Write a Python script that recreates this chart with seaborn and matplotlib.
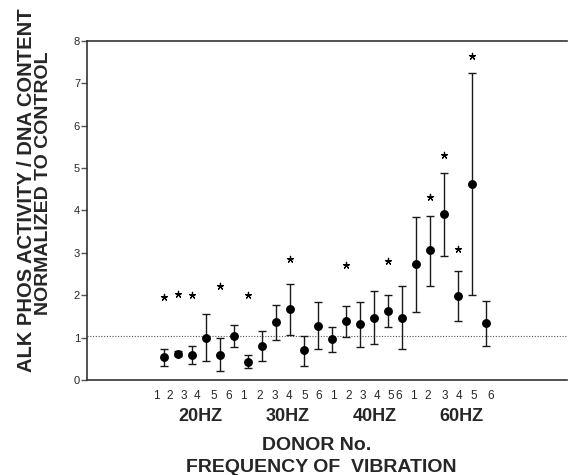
import numpy as np
import pandas as pd
import matplotlib
matplotlib.use("Agg")
import matplotlib.pyplot as plt
import matplotlib.transforms as mtrans
import seaborn as sns

# ---------------- data ----------------
groups = ["20HZ", "30HZ", "40HZ", "60HZ"]
donors = [1, 2, 3, 4, 5, 6]

mean_20 = [0.535, 0.615, 0.59, 0.99, 0.60, 1.04]
mean_30 = [0.43, 0.80, 1.36, 1.67, 0.71, 1.28]
mean_40 = [0.96, 1.39, 1.33, 1.47, 1.63, 1.47]
mean_60 = [2.74, 3.06, 3.91, 1.99, 4.63, 1.34]

upper_20 = [0.73, 0.68, 0.80, 1.55, 0.99, 1.29]
upper_30 = [0.59, 1.16, 1.76, 2.27, 1.05, 1.83]
upper_40 = [1.25, 1.75, 1.85, 2.09, 2.00, 2.22]
upper_60 = [3.84, 3.88, 4.88, 2.57, 7.24, 1.86]

lower_20 = [0.34, 0.56, 0.38, 0.44, 0.21, 0.77]
lower_30 = [0.28, 0.44, 0.95, 1.07, 0.34, 0.73]
lower_40 = [0.67, 1.01, 0.78, 0.84, 1.24, 0.72]
lower_60 = [1.61, 2.23, 2.93, 1.40, 2.00, 0.81]

# height of significance asterisks (nan = none)
star_20 = [1.97, 2.03, 2.00, np.nan, 2.22, np.nan]
star_30 = [2.00, np.nan, np.nan, 2.86, np.nan, np.nan]
star_40 = [np.nan, 2.71, np.nan, np.nan, 2.82, np.nan]
star_60 = [np.nan, 4.32, 5.30, 3.08, 7.64, np.nan]

control_level = 1.04
y_ticks = [0, 1, 2, 3, 4, 5, 6, 7, 8]

# tick-label positions (in point-index units) as printed in the original
xtick_pos = [-0.59, 0.36, 1.36, 2.36, 3.50, 4.57,
             5.64, 6.79, 7.90, 8.93, 10.05, 11.00,
             12.05, 13.19, 14.19, 15.19, 16.17, 16.76,
             17.76, 18.84, 20.05, 21.05, 22.12, 23.31]
group_label_pos = [2.6, 8.8, 15.05, 21.25]

df = pd.DataFrame({
    "group": np.repeat(groups, len(donors)),
    "donor": np.tile(donors, len(groups)),
    "mean": mean_20 + mean_30 + mean_40 + mean_60,
    "upper": upper_20 + upper_30 + upper_40 + upper_60,
    "lower": lower_20 + lower_30 + lower_40 + lower_60,
    "star": star_20 + star_30 + star_40 + star_60,
})
df["pos"] = np.arange(len(df))

# ---------------- style ----------------
sns.set_style("ticks")
plt.rcParams["font.family"] = ["Liberation Sans", "DejaVu Sans"]

W, H = 568, 475
fig = plt.figure(figsize=(W / 100, H / 100), dpi=100)
ax = fig.add_axes([87 / W, 95 / H, 480 / W, 339 / H])

ax.axhline(control_level, color="#555555", lw=0.8, ls=(0, (1, 1.5)), zorder=1)

ax.errorbar(df["pos"], df["mean"],
            yerr=[df["mean"] - df["lower"], df["upper"] - df["mean"]],
            fmt="none", ecolor="#1a1a1a", elinewidth=1.0,
            capsize=2.6, capthick=1.0, zorder=2)

sns.scatterplot(data=df, x="pos", y="mean", color="black", s=6.4 ** 2,
                edgecolor="black", linewidth=0, ax=ax, zorder=3, legend=False)

stars = df.dropna(subset=["star"])
ax.scatter(stars["pos"], stars["star"], marker=(5, 2, 0), s=4.5 ** 2,
           color="black", linewidths=0.9, zorder=3)

ax.set_xlim(-5.52, 28.76)
ax.set_ylim(0, 8)
ax.set_yticks(y_ticks)
ax.set_xticks(xtick_pos)
ax.set_xticklabels(df["donor"].astype(str))
ax.set_xlabel("")
ax.set_ylabel("")

ax.tick_params(axis="y", direction="out", length=4, width=1, color="#555555",
               labelsize=8, pad=1)
ax.tick_params(axis="x", length=0, labelsize=8.5, pad=7)

for s in ["left", "top", "bottom"]:
    ax.spines[s].set_color("#333333")
    ax.spines[s].set_linewidth(1.2)
ax.spines["right"].set_visible(False)

trans = mtrans.blended_transform_factory(ax.transData, fig.transFigure)
for g, c in zip(groups, group_label_pos):
    ax.text(c, 1 - 421 / H, g, transform=trans, ha="center", va="baseline",
            fontsize=13, fontweight="bold")

fig.text(316.7 / W, 1 - 450 / H, "DONOR No.", ha="center", va="baseline",
         fontsize=14, fontweight="bold")
fig.text(321 / W, 1 - 471.7 / H, "FREQUENCY OF  VIBRATION", ha="center",
         va="baseline", fontsize=14, fontweight="bold")

fig.text(31.7 / W, 1 - 190 / H, "ALK PHOS ACTIVITY / DNA CONTENT",
         rotation=90, rotation_mode="anchor", ha="center", va="baseline",
         fontsize=14.5, fontweight="bold")
fig.text(48.3 / W, 1 - 183.5 / H, "NORMALIZED TO CONTROL",
         rotation=90, rotation_mode="anchor", ha="center", va="baseline",
         fontsize=14, fontweight="bold")

fig.savefig("out.png", dpi=100, facecolor="white")
